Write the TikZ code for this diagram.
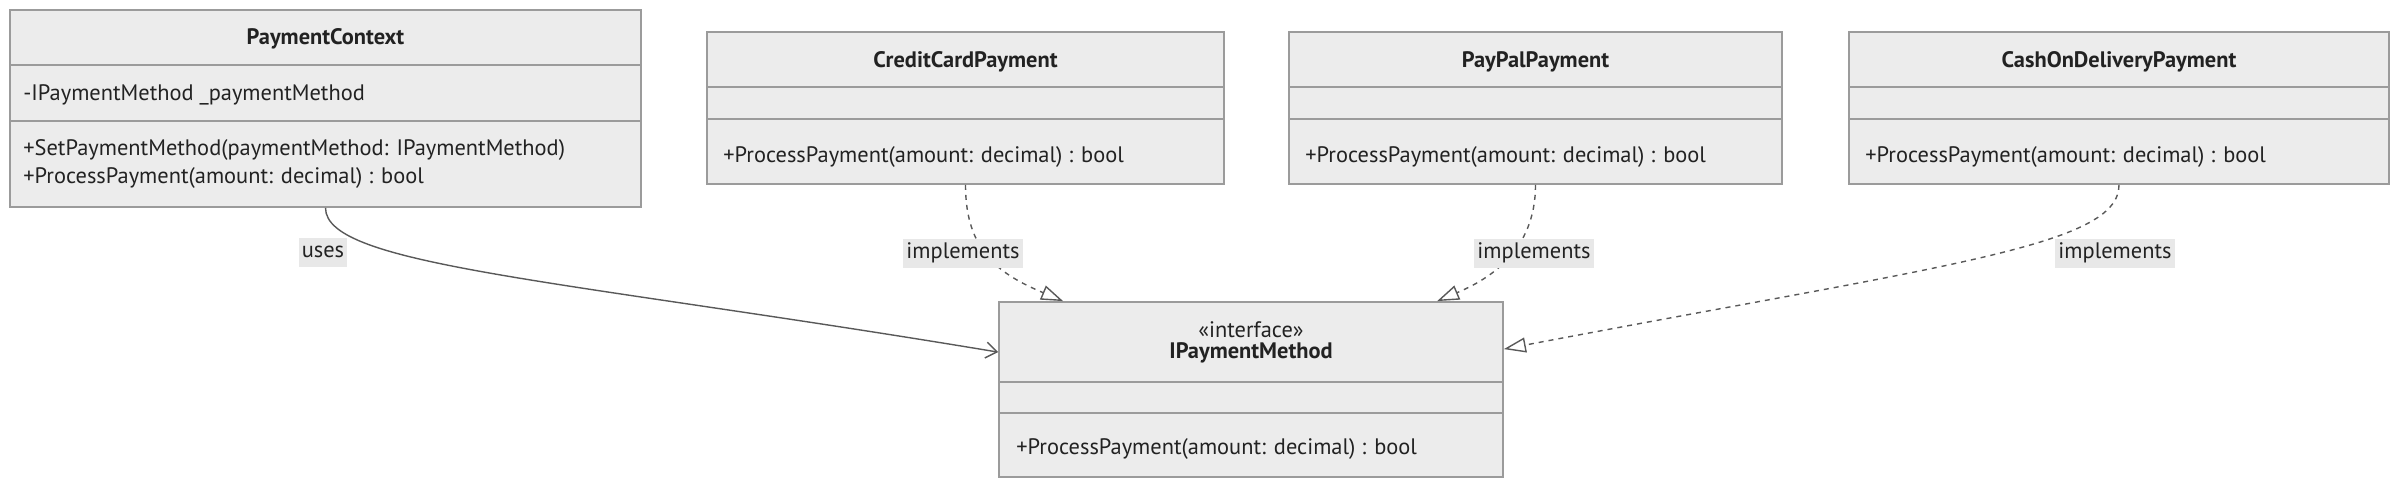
\documentclass[tikz,border=0pt]{standalone}
\usepackage{fontspec}
\setmainfont{PT Sans}
\usetikzlibrary{arrows.meta,calc}
\definecolor{boxfill}{HTML}{ECECEC}
\definecolor{boxline}{HTML}{9B9B9B}
\definecolor{lblfill}{HTML}{E8E8E8}
\definecolor{edgecol}{HTML}{595959}
\definecolor{txt}{HTML}{222222}
\begin{document}
\begin{tikzpicture}[x=0.5pt,y=-0.5pt,
  classbox/.style={draw=boxline, fill=boxfill, line width=0.9pt, inner sep=0pt, rectangle},
  sepline/.style={draw=boxline, line width=0.9pt},
  title/.style={font=\fontsize{11.2}{13}\selectfont\bfseries, text=txt, inner sep=0pt},
  member/.style={font=\fontsize{11.2}{13}\selectfont, text=txt, anchor=west, inner sep=0pt},
  stereo/.style={font=\fontsize{11.2}{13}\selectfont, text=txt, inner sep=0pt},
  elabel/.style={fill=lblfill, font=\fontsize{11.2}{13}\selectfont, text=txt, inner xsep=1.5pt, inner ysep=0pt, minimum height=14.5pt},
  useedge/.style={draw=edgecol, line width=0.7pt, -{Straight Barb[length=5.5pt,width=8pt]}},
  realize/.style={draw=edgecol, line width=0.7pt, dash pattern=on 2.5pt off 2.5pt, -{Triangle[open,length=11pt,width=7.5pt]}}
]
\useasboundingbox (0,0) rectangle (2400,488);

% PaymentContext
\node[classbox, minimum width=315.5pt, minimum height=98.5pt] (pc) at (325.5,108.5) {};
\draw[sepline] ($(pc.north west)+(0,56)$) -- ($(pc.north east)+(0,56)$);
\draw[sepline] ($(pc.north west)+(0,112)$) -- ($(pc.north east)+(0,112)$);
\node[title] (pct) at (325.5,39) {PaymentContext};
\node[member] (pca) at (23,95) {-IPaymentMethod \_paymentMethod};
\node[member] (pcm1) at (23,150) {+SetPaymentMethod(paymentMethod: IPaymentMethod)};
\node[member] (pcm2) at (23,178) {+ProcessPayment(amount: decimal) : bool};

% CreditCardPayment
\node[classbox, minimum width=258.5pt, minimum height=76pt] (cc) at (965.5,108) {};
\draw[sepline] ($(cc.north west)+(0,56)$) -- ($(cc.north east)+(0,56)$);
\draw[sepline] ($(cc.north west)+(0,88)$) -- ($(cc.north east)+(0,88)$);
\node[title] (cct) at (965.5,62) {CreditCardPayment};
\node[member] (ccm) at (723,157) {+ProcessPayment(amount: decimal) : bool};

% PayPalPayment
\node[classbox, minimum width=246.5pt, minimum height=76pt] (pp) at (1535.5,108) {};
\draw[sepline] ($(pp.north west)+(0,56)$) -- ($(pp.north east)+(0,56)$);
\draw[sepline] ($(pp.north west)+(0,88)$) -- ($(pp.north east)+(0,88)$);
\node[title] (ppt) at (1535.5,62) {PayPalPayment};
\node[member] (ppm) at (1305,157) {+ProcessPayment(amount: decimal) : bool};

% CashOnDeliveryPayment
\node[classbox, minimum width=270pt, minimum height=76pt] (cod) at (2119,108) {};
\draw[sepline] ($(cod.north west)+(0,56)$) -- ($(cod.north east)+(0,56)$);
\draw[sepline] ($(cod.north west)+(0,88)$) -- ($(cod.north east)+(0,88)$);
\node[title] (codt) at (2119,62) {CashOnDeliveryPayment};
\node[member] (codm) at (1865,157) {+ProcessPayment(amount: decimal) : bool};

% IPaymentMethod
\node[classbox, minimum width=252pt, minimum height=87.5pt] (ipm) at (1251,389.5) {};
\draw[sepline] ($(ipm.north west)+(0,81)$) -- ($(ipm.north east)+(0,81)$);
\draw[sepline] ($(ipm.north west)+(0,112)$) -- ($(ipm.north east)+(0,112)$);
\node[stereo] (ipms) at (1251,330) {«interface»};
\node[title] (ipmt) at (1251,353) {IPaymentMethod};
\node[member] (ipmm) at (1016,449) {+ProcessPayment(amount: decimal) : bool};

% end points on IPaymentMethod
\coordinate (ipmW) at ($(ipm.north west)+(0,51)$);
\coordinate (t1) at ($(ipm.north west)+(65,0)$);
\coordinate (t2) at ($(ipm.north west)+(439,0)$);
\coordinate (t3) at ($(ipm.north east)+(0,48)$);

% connectors
\draw[useedge] (pc.south) .. controls +(0,58) and +(-439,-73) .. (ipmW);
\draw[realize] (cc.south) .. controls +(0,66) and +(-64,-27) .. (t1);
\draw[realize] (pp.south) .. controls +(0,66) and +(52,-22) .. (t2);
\draw[realize] (cod.south) .. controls +(0,61) and +(447,-85) .. (t3);

% labels
\node[elabel] (l0) at (323,252) {uses};
\node[elabel] (l1) at (963,253) {implements};
\node[elabel] (l2) at (1534,253) {implements};
\node[elabel] (l3) at (2115,253) {implements};
\end{tikzpicture}
\end{document}
